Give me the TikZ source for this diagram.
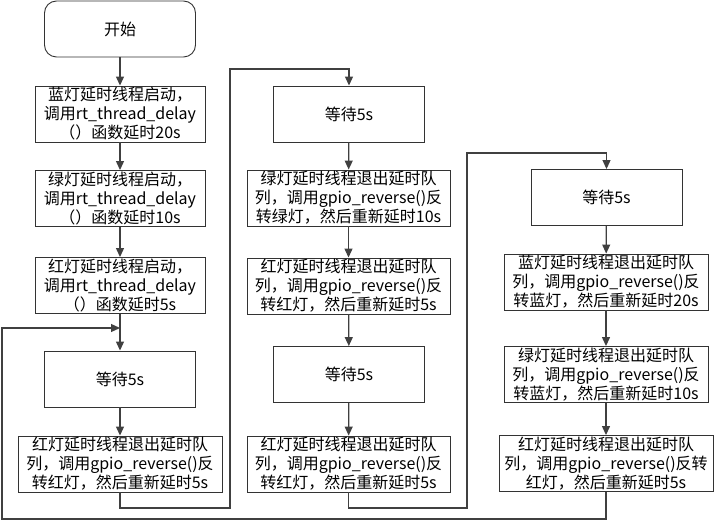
\documentclass[tikz,border=0pt]{standalone}
\usepackage{fontspec}
\setmainfont{Noto Sans CJK SC}
\usetikzlibrary{arrows.meta}

\begin{document}
\begin{tikzpicture}[x=1pt,y=-1pt]
\tikzstyle{every node}=[draw=black!80,line width=0.9pt,inner sep=0pt,align=center,font=\fontsize{16}{19}\selectfont];
\tikzstyle{box}=[minimum width=204pt,minimum height=56pt];
\tikzstyle{waitbox}=[minimum width=151pt,minimum height=56pt];
\tikzstyle{arr}=[draw=black!75,line width=1.2pt,-{Triangle[width=8pt,length=9pt]}];
\useasboundingbox (0,0) rectangle (717,521);
% column 1
\node[waitbox,rounded corners=12pt] (start) at (120,29) {开始};
\node[box,minimum width=170pt] (b1) at (120,114) {蓝灯延时线程启动，\\调用rt\_thread\_delay\\（）函数延时20s};
\node[box,minimum width=170pt] (b2) at (120,198.5) {绿灯延时线程启动，\\调用rt\_thread\_delay\\（）函数延时10s};
\node[box,minimum width=170pt] (b3) at (120,285.5) {红灯延时线程启动，\\调用rt\_thread\_delay\\（）函数延时5s};
\node[waitbox] (w1) at (120,379) {等待5s};
\node[box] (b4) at (120,464) {红灯延时线程退出延时队\\列，调用gpio\_reverse()反\\转红灯，然后重新延时5s};
% column 2
\node[waitbox] (w2) at (349,114) {等待5s};
\node[box,minimum width=203pt] (c1) at (348.5,198) {绿灯延时线程退出延时队\\列，调用gpio\_reverse()反\\转绿灯，然后重新延时10s};
\node[box,minimum width=203pt] (c2) at (348.5,286) {红灯延时线程退出延时队\\列，调用gpio\_reverse()反\\转红灯，然后重新延时5s};
\node[waitbox] (w3) at (349,374.5) {等待5s};
\node[box,minimum width=203pt] (c3) at (348.5,464) {红灯延时线程退出延时队\\列，调用gpio\_reverse()反\\转红灯，然后重新延时5s};
% column 3
\node[waitbox] (w4) at (606.5,197.5) {等待5s};
\node[box] (d1) at (606,282) {蓝灯延时线程退出延时队\\列，调用gpio\_reverse()反\\转蓝灯，然后重新延时20s};
\node[box] (d2) at (606,374.5) {绿灯延时线程退出延时队\\列，调用gpio\_reverse()反\\转蓝灯，然后重新延时10s};
\node[box,minimum width=214pt] (d3) at (606,463.5) {红灯延时线程退出延时队\\列，调用gpio\_reverse()反转\\红灯，然后重新延时5s};
% bends
\coordinate (k1) at (230,508);
\coordinate (k2) at (230,69);
\coordinate (m1) at (467,508);
\coordinate (m2) at (467,153);
\coordinate (n1) at (2,519);
\coordinate (j) at (120,328);
% arrows
\draw[arr] (start) -- (b1);
\draw[arr] (b1) -- (b2);
\draw[arr] (b2) -- (b3);
\draw[arr] (b3) -- (w1);
\draw[arr] (w1) -- (b4);
\draw[arr] (b4.south) |- (k1) -- (k2) -| (w2.north);
\draw[arr] (w2) -- (c1);
\draw[arr] (c1) -- (c2);
\draw[arr] (c2) -- (w3);
\draw[arr] (w3) -- (c3);
\draw[arr] (c3.south) |- (m1) -- (m2) -| (w4.north);
\draw[arr] (w4) -- (d1);
\draw[arr] (d1) -- (d2);
\draw[arr] (d2) -- (d3);
\draw[arr] (d3.south) |- (n1) |- (j);
\end{tikzpicture}
\end{document}
